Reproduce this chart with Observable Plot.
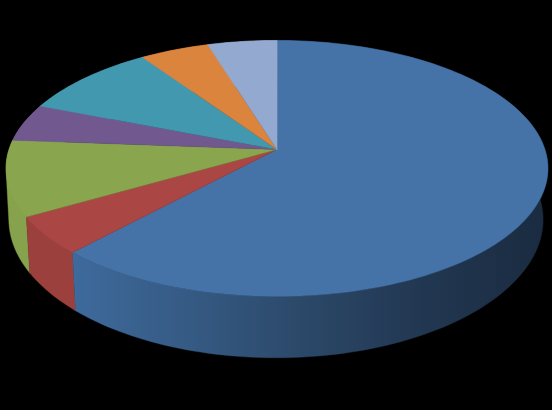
<!DOCTYPE html>
<html>
<head>
<meta charset="utf-8">
<script src="https://cdn.jsdelivr.net/npm/d3@7"></script>
<script src="https://cdn.jsdelivr.net/npm/@observablehq/plot@0.6"></script>
<style>html,body{margin:0;padding:0;background:#000}svg{display:block}</style>
</head>
<body>
<script>
// Data: slice shares, clockwise from 12 o'clock
const categories = ["A", "B", "C", "D", "E", "F", "G"];
const values = [13, 1, 2, 1, 2, 1, 1];
const topColors = ["#4573a7", "#aa4644", "#89a54e", "#71588f", "#4298af", "#db843d", "#93a9cf"];
const sideColors = ["url(#blueSide)", "#9c403e", "#87a24c", "#6b5387", "#3e8fa6", "#d07d39", "#8ba0c4"];
const blueSideStops = [[0, "#3e6a9c"], [0.25, "#355a83"], [0.5, "#2b4767"], [0.75, "#213650"], [1, "#1a2b40"]];

// Perspective view of a tilted disc
const project = (phi, cx, base, A, B, ky, kx) => {
  const u = -Math.cos(phi), v = Math.sin(phi);
  return {x: cx + B * v / (1 + kx * u), y: base + A * u / (1 + ky * u)};
};
const topFace = (phi) => project(phi, 276.5, 149, 125.2, 268, -0.148, -0.148);
const bottomFace = (phi) => project(phi, 275.5, 200, 134, 264.5, -0.148, -0.14);

const arcs = d3.pie().sort(null)(values);
const steps = (a) => d3.range(0, 1.0001, 1 / Math.max(4, Math.ceil((a.endAngle - a.startAngle) * 40)))
  .map((t) => a.startAngle + t * (a.endAngle - a.startAngle));

// A slice wall is its top and bottom arcs; small slices use their hull, so the wall's
// silhouette runs tangent from the top rim to the bottom rim.
const sidePolys = arcs.map((a) => {
  const s = steps(a);
  const pts = [...s.map(topFace), ...s.slice().reverse().map(bottomFace)];
  if (a.endAngle - a.startAngle >= Math.PI) return pts;
  return d3.polygonHull(pts.map((p) => [p.x, p.y])).map(([x, y]) => ({x, y}));
});
const topPolys = arcs.map((a) => [{x: 276.5, y: 149}, ...steps(a).map(topFace)]);

const defs = () => {
  const svgNS = "http://www.w3.org/2000/svg";
  const d = document.createElementNS(svgNS, "defs");
  const g = document.createElementNS(svgNS, "linearGradient");
  g.setAttribute("id", "blueSide");
  g.setAttribute("gradientUnits", "userSpaceOnUse");
  g.setAttribute("x1", 72); g.setAttribute("x2", 548);
  g.setAttribute("y1", 0); g.setAttribute("y2", 0);
  blueSideStops.forEach(([o, c]) => {
    const st = document.createElementNS(svgNS, "stop");
    st.setAttribute("offset", o); st.setAttribute("stop-color", c);
    g.appendChild(st);
  });
  d.appendChild(g);
  return d;
};

const polyMark = (pts, fill) => Plot.line(pts, {x: "x", y: "y", fill, stroke: fill, strokeWidth: 0.4, curve: "linear-closed"});

const plot = Plot.plot({
  width: 552, height: 410,
  margin: 0,
  style: {background: "#000"},
  x: {domain: [0, 552], range: [0, 552], axis: null},
  y: {domain: [0, 410], range: [0, 410], axis: null},
  marks: [
    defs,
    ...sidePolys.map((p, i) => polyMark(p, sideColors[i])).reverse(),
    ...topPolys.map((p, i) => polyMark(p, topColors[i]))
  ]
});
document.body.appendChild(plot);
</script>
</body>
</html>
